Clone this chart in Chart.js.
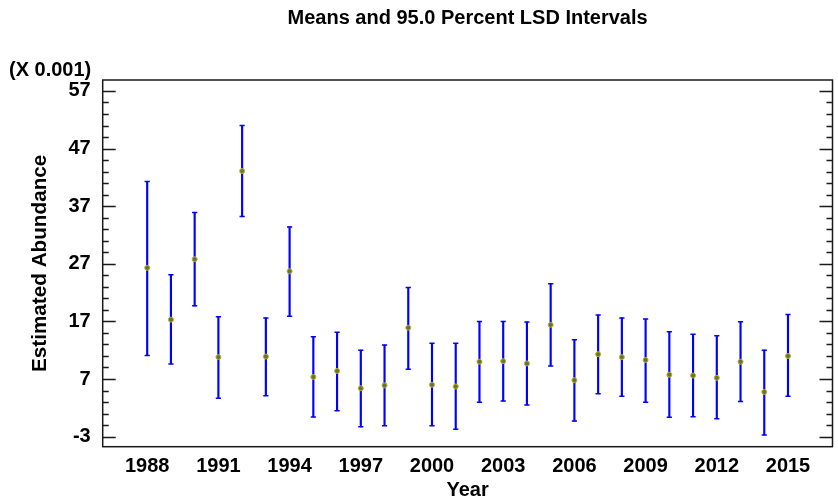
<!DOCTYPE html>
<html>
<head>
<meta charset="utf-8">
<script src="https://cdn.jsdelivr.net/npm/chart.js@4/dist/chart.umd.min.js"></script>
<style>
  html, body { margin: 0; padding: 0; background: #fff; }
  #wrap { width: 838px; height: 502px; position: relative; }
</style>
</head>
<body>
<div id="wrap"><canvas id="c" width="838" height="502"></canvas></div>
<script>
// Yearly means (x 0.001) with their 95% LSD interval bounds
const years = [1988, 1989, 1990, 1991, 1992, 1993, 1994, 1995, 1996, 1997,
               1998, 1999, 2000, 2001, 2002, 2003, 2004, 2005, 2006, 2007,
               2008, 2009, 2010, 2011, 2012, 2013, 2014, 2015];
const means = [26.3, 17.3, 27.8, 10.8, 43.1, 10.9, 25.7, 7.35, 8.4, 5.4,
               5.9, 15.9, 6.0, 5.7, 10.0, 10.1, 9.7, 16.4, 6.8, 11.3,
               10.8, 10.3, 7.75, 7.6, 7.2, 10.0, 4.75, 11.0];
const lower = [11.1, 9.6, 19.7, 3.65, 35.2, 4.1, 17.9, 0.4, 1.5, -1.3,
               -1.1, 8.7, -1.1, -1.7, 2.95, 3.2, 2.5, 9.25, -0.3, 4.45,
               4.0, 2.95, 0.35, 0.45, 0.1, 3.1, -2.7, 4.0];
const upper = [41.3, 25.1, 35.9, 17.8, 51.0, 17.6, 33.4, 14.35, 15.1, 12.0,
               12.9, 22.9, 13.2, 13.2, 17.0, 17.0, 16.9, 23.55, 13.8, 18.1,
               17.6, 17.4, 15.2, 14.75, 14.5, 16.95, 12.0, 18.2];

const xTickLabels = [1988, 1991, 1994, 1997, 2000, 2003, 2006, 2009, 2012, 2015];
const yTickLabels = [-3, 7, 17, 27, 37, 47, 57];

const FONT = "'Liberation Sans', Arial, Helvetica, sans-serif";
const BLUE = '#0000ff';

// Frame around the plot plus inward-pointing major/minor ticks on both sides
const framePlugin = {
  id: 'frame',
  afterDraw(chart) {
    const { ctx, chartArea: a } = chart;
    const y = chart.scales.y;
    ctx.save();
    ctx.strokeStyle = '#1a1a1a';
    ctx.lineWidth = 1.5;
    ctx.strokeRect(a.left, a.top, a.right - a.left, a.bottom - a.top);
    ctx.lineWidth = 1.3;
    for (let v = yTickLabels[0]; v <= yTickLabels[yTickLabels.length - 1]; v += 2) {
      const py = Math.round(y.getPixelForValue(v)) + 0.5;
      const major = yTickLabels.includes(v);
      const len = major ? 13 : 6;
      ctx.beginPath();
      ctx.moveTo(a.left, py); ctx.lineTo(a.left + len, py);
      ctx.moveTo(a.right, py); ctx.lineTo(a.right - len, py);
      ctx.stroke();
    }
    // multiplier note above the value axis
    ctx.fillStyle = '#000';
    ctx.font = 'bold 20px ' + FONT;
    ctx.textAlign = 'left';
    ctx.textBaseline = 'middle';
    ctx.fillText('(X 0.001)', 9, 70);
    ctx.restore();
  }
};

new Chart(document.getElementById('c'), {
  type: 'scatter',
  data: {
    datasets: [
      {
        type: 'bar',
        label: 'interval',
        data: years.map((yr, i) => ({ x: yr, y: [lower[i], upper[i]] })),
        backgroundColor: BLUE,
        borderWidth: 0,
        barThickness: 1.5,
        order: 2
      },
      {
        label: 'caps',
        data: years.flatMap((yr, i) => [{ x: yr, y: lower[i] }, { x: yr, y: upper[i] }]),
        pointStyle: 'line',
        radius: 2.6,
        borderColor: BLUE,
        borderWidth: 1.5,
        order: 1
      },
      {
        label: 'mean',
        data: years.map((yr, i) => ({ x: yr, y: means[i] })),
        pointStyle: 'circle',
        radius: 2.5,
        backgroundColor: '#6e6e3a',
        borderColor: '#b4b428',
        borderWidth: 1,
        order: 0
      }
    ]
  },
  options: {
    responsive: false,
    animation: false,
    devicePixelRatio: 1,
    layout: { padding: { left: 0, right: 3.7, top: 0, bottom: 0 } },
    plugins: {
      legend: { display: false },
      tooltip: { enabled: false },
      title: {
        display: true,
        fullSize: false,
        text: 'Means and 95.0 Percent LSD Intervals',
        color: '#000',
        font: { family: FONT, size: 20, weight: 'bold', lineHeight: 1.2 },
        padding: { top: 6, bottom: 50 }
      }
    },
    scales: {
      x: {
        type: 'linear',
        min: 1986.125,
        max: 2016.875,
        offset: false,
        afterBuildTicks(scale) { scale.ticks = xTickLabels.map(v => ({ value: v })); },
        afterFit(scale) { scale.height = 55.3; },
        grid: { display: false, drawTicks: false, offset: false },
        border: { display: false },
        ticks: {
          color: '#000',
          padding: 8,
          maxRotation: 0,
          autoSkip: false,
          font: { family: FONT, size: 20, weight: 'bold' },
          callback: v => String(v)
        },
        title: {
          display: true,
          text: 'Year',
          color: '#000',
          font: { family: FONT, size: 20, weight: 'bold', lineHeight: 1.2 },
          padding: { top: 0, bottom: 0 }
        }
      },
      y: {
        type: 'linear',
        min: -4.75,
        max: 58.9,
        afterBuildTicks(scale) { scale.ticks = yTickLabels.map(v => ({ value: v })); },
        afterFit(scale) { scale.width = 102.7; },
        grid: { display: false, drawTicks: false },
        border: { display: false },
        ticks: {
          color: '#000',
          padding: 12,
          autoSkip: false,
          font: { family: FONT, size: 20, weight: 'bold' },
          callback: v => String(v)
        },
        title: {
          display: true,
          text: 'Estimated Abundance',
          color: '#000',
          font: { family: FONT, size: 20.7, weight: 'bold', lineHeight: 1.2 },
          padding: { top: 28, bottom: 0 }
        }
      }
    }
  },
  plugins: [framePlugin]
});
</script>
</body>
</html>
